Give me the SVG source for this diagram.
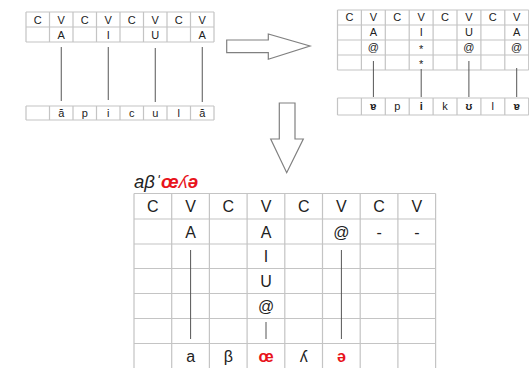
<svg xmlns="http://www.w3.org/2000/svg" width="529" height="368" viewBox="0 0 529 368">
<style>
.grid{fill:none;stroke:#c4c4c4;stroke-width:1.2}
.t{font-family:"Liberation Sans",Arial,sans-serif;fill:#222;text-anchor:middle}
.s{font-size:11px}
.b{font-size:16px}
.bold{font-weight:bold}
.red{fill:#e8141c}
.conn{stroke:#555;stroke-width:1;fill:none}
.arrow{fill:#fff;stroke:#808080;stroke-width:1.2}
</style>
<rect width="529" height="368" fill="#fff"/>

<!-- Top-left table -->
<g id="table-left">
  <path class="grid" d="M26,12H214M26,27H214M26,42H214M26,12V42M49.5,12V42M73,12V42M96.5,12V42M120,12V42M143.5,12V42M167,12V42M190.5,12V42M214,12V42"/>
  <g class="t s">
    <text x="37.75" y="23.6">C</text><text x="61.25" y="23.6">V</text><text x="84.75" y="23.6">C</text><text x="108.25" y="23.6">V</text>
    <text x="131.75" y="23.6">C</text><text x="155.25" y="23.6">V</text><text x="178.75" y="23.6">C</text><text x="202.25" y="23.6">V</text>
    <text x="61.25" y="38.6">A</text><text x="108.25" y="38.6">I</text><text x="155.25" y="38.6">U</text><text x="202.25" y="38.6">A</text>
  </g>
</g>
<g id="row-left-bottom">
  <path class="grid" d="M26,106H214M26,120H214M26,106V120M49.5,106V120M73,106V120M96.5,106V120M120,106V120M143.5,106V120M167,106V120M190.5,106V120M214,106V120"/>
  <g class="t s">
    <text x="61.25" y="117">ă</text><text x="84.75" y="117">p</text><text x="108.25" y="117">i</text><text x="131.75" y="117">c</text>
    <text x="155.25" y="117">u</text><text x="178.75" y="117">l</text><text x="202.25" y="117">ă</text>
  </g>
</g>

<!-- Top-right table -->
<g id="table-right">
  <path class="grid" d="M337.5,10H528.7M337.5,25H528.7M337.5,40H528.7M337.5,55H528.7M337.5,70H528.7M337.5,10V70M361.4,10V70M385.3,10V70M409.2,10V70M433.1,10V70M457,10V70M480.9,10V70M504.8,10V70M528.7,10V70"/>
  <g class="t s">
    <text x="349.5" y="21.4">C</text><text x="373.4" y="21.4">V</text><text x="397.3" y="21.4">C</text><text x="421.2" y="21.4">V</text>
    <text x="445" y="21.4">C</text><text x="468.9" y="21.4">V</text><text x="492.8" y="21.4">C</text><text x="516.7" y="21.4">V</text>
    <text x="373.4" y="36.4">A</text><text x="421.2" y="36.4">I</text><text x="468.9" y="36.4">U</text><text x="516.7" y="36.4">A</text>
    <text x="373.4" y="51.4">@</text><text x="421.2" y="52.6">*</text><text x="468.9" y="51.4">@</text><text x="516.7" y="51.4">@</text>
    <text x="421.2" y="67.6">*</text>
  </g>
</g>
<g id="row-right-bottom">
  <path class="grid" d="M337.5,98H528.7M337.5,115H528.7M337.5,98V115M361.4,98V115M385.3,98V115M409.2,98V115M433.1,98V115M457,98V115M480.9,98V115M504.8,98V115M528.7,98V115"/>
  <g class="t s">
    <text class="bold" x="373.4" y="110.4">ɐ</text><text x="397.3" y="110.4">p</text><text class="bold" x="421.2" y="110.4">i</text><text x="445" y="110.4">k</text>
    <text class="bold" x="468.9" y="110.4">ʊ</text><text x="492.8" y="110.4">l</text><text class="bold" x="516.7" y="110.4">ɐ</text>
  </g>
</g>

<!-- Arrows -->
<g id="arrow-right">
  <polygon class="arrow" points="226.7,40 268.3,40 268.3,34 310,46 268.3,59.3 268.3,52.7 226.7,52.7"/>
</g>
<g id="arrow-down">
  <polygon class="arrow" points="279.3,103 295,103 295,139 303.3,139 286.7,172.7 270.7,139 279.3,139"/>
</g>

<!-- Bottom table -->
<g id="title">
  <text x="134" y="188" style="font-family:'Liberation Sans',Arial,sans-serif;font-size:18.5px;font-style:italic" fill="#222">aβˈ<tspan fill="#e8141c" font-weight="bold">œ</tspan><tspan fill="#e8141c">ʎ</tspan><tspan fill="#e8141c" font-weight="bold">ə</tspan></text>
</g>
<g id="table-bottom">
  <path class="grid" d="M134,193.5H435.6M134,219H435.6M134,244H435.6M134,268.5H435.6M134,293.5H435.6M134,318.5H435.6M134,343.5H435.6M134,193.5V368M171.7,193.5V368M209.4,193.5V368M247.1,193.5V368M284.8,193.5V368M322.5,193.5V368M360.2,193.5V368M397.9,193.5V368M435.6,193.5V368"/>
  <g class="t b">
    <text x="152.9" y="212">C</text><text x="190.6" y="212">V</text><text x="228.3" y="212">C</text><text x="266" y="212">V</text>
    <text x="303.7" y="212">C</text><text x="341.4" y="212">V</text><text x="379.1" y="212">C</text><text x="416.8" y="212">V</text>
    <text x="190.6" y="237.5">A</text><text x="266" y="237.5">A</text><text x="341.4" y="237.5">@</text><text x="379.1" y="237.5">-</text><text x="416.8" y="237.5">-</text>
    <text x="266" y="262">I</text>
    <text x="266" y="287">U</text>
    <text x="266" y="312">@</text>
    <text x="190.6" y="362">a</text><text x="228.3" y="362">β</text><text class="bold red" x="266" y="362">œ</text><text x="303.7" y="362">ʎ</text><text class="bold red" x="341.4" y="362">ə</text>
  </g>
</g>

<!-- Connectors -->
<g id="connectors">
  <path class="conn" d="M61.25,47V101M108.25,47V100M155.25,48V102M202.25,47V102"/>
  <path class="conn" d="M373.4,61V97M421.2,69V97M468.9,61V97M516.7,68V97"/>
  <path class="conn" d="M190.6,250V339M266,322V339M341.4,250V339"/>
</g>
</svg>
